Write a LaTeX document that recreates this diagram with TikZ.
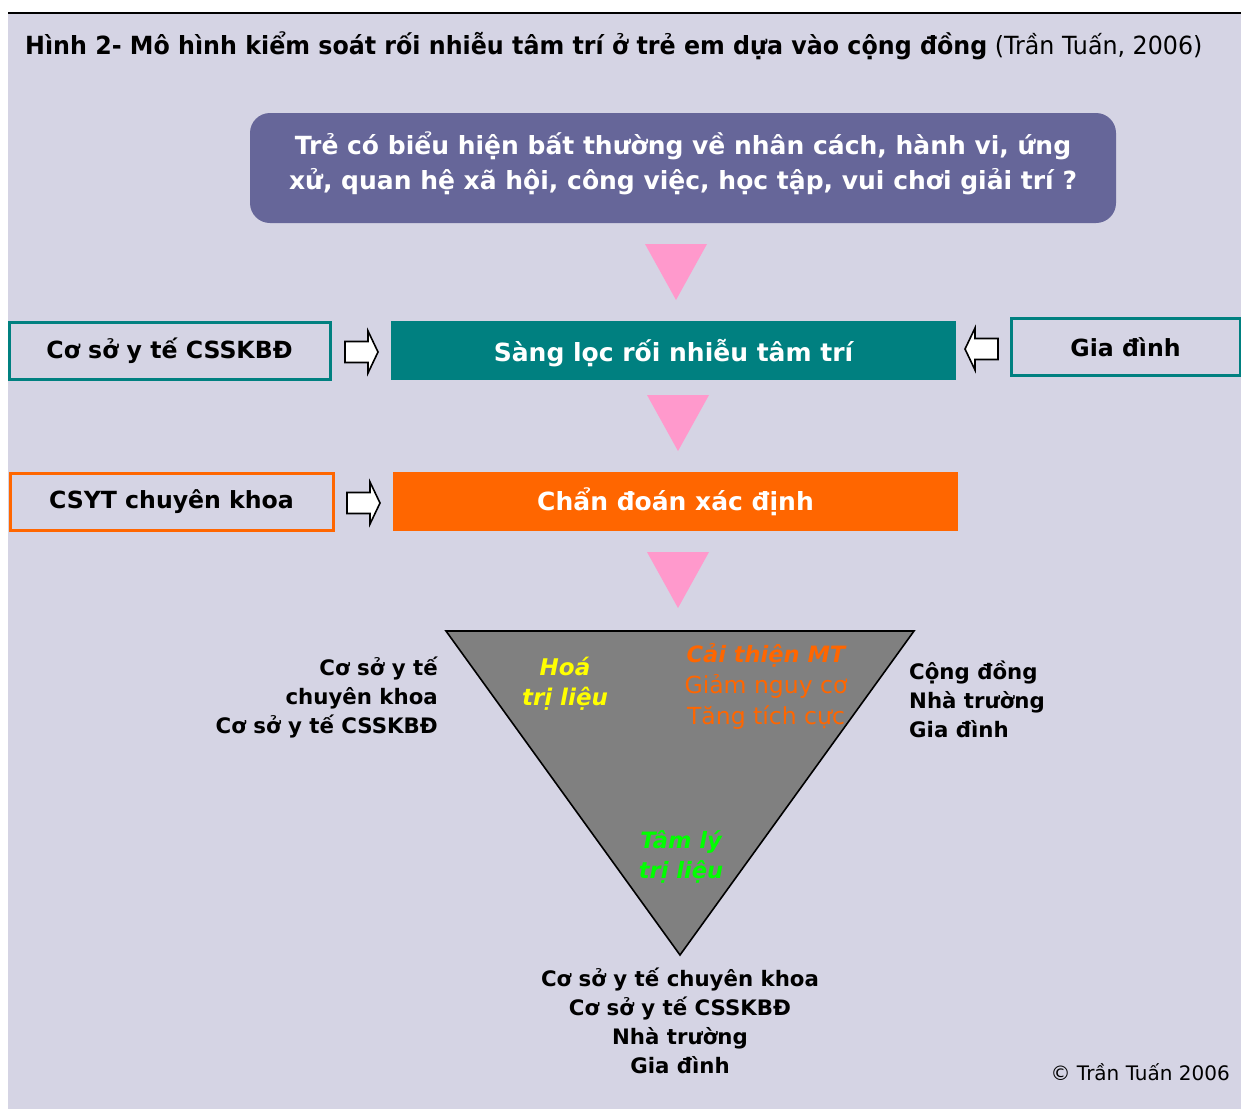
\documentclass[tikz,border=0pt]{standalone}
\usepackage{fontspec}
\setmainfont{DejaVu Sans}
\newfontfamily\titlefont[FakeStretch=0.95]{DejaVu Sans}
\usetikzlibrary{positioning,shapes.geometric,calc}
\definecolor{lavender} {HTML}{D5D4E4}
\definecolor{slate}    {HTML}{666699}
\definecolor{teal}     {HTML}{008080}
\definecolor{mandarin} {HTML}{FF6600}
\definecolor{pinkish}  {HTML}{FF99CC}
\definecolor{ash}      {HTML}{808080}
\definecolor{lemon}    {HTML}{FFFF00}
\definecolor{lime}     {HTML}{00FF00}
\tikzset{
  % --- nodes
  box/.style    = {align=center, inner sep=0pt, font=\fontsize{25}{35}\selectfont\bfseries},
  solid/.style  = {box, text=white, minimum width=565pt, minimum height=59pt},
  frame/.style  = {box, fill=lavender, line width=3pt, minimum height=57pt,
                   font=\fontsize{23.6}{30}\selectfont\bfseries},
  lbl/.style    = {inner sep=0pt, font=\fontsize{21.3}{29}\selectfont\bfseries},
  % --- pictograms
  blockarrow/.pic = {
    \draw[fill=white, line width=1.6pt, line join=miter]
      (-16.5,-10.5) -- (6.5,-10.5) -- (6.5,-21) -- (16.5,0) -- (6.5,21)
      -- (6.5,10.5) -- (-16.5,10.5) -- cycle;
  },
  pinkdown/.pic = {
    \fill[pinkish] (-31,0) -- (31,0) -- (0,56) -- cycle;
  },
}
\begin{document}
\begin{tikzpicture}[x=1pt,y=-1pt]
  \useasboundingbox (0,0) rectangle (1241,1109);
  \fill[lavender] (8,13) rectangle (1241,1109);
  \draw[line width=2pt] (8,13) -- (1241,13);

  \node[anchor=west, inner sep=0pt] (title) at (25,46)
    {\titlefont\fontsize{25}{30}\selectfont{\bfseries Hình 2- Mô hình kiểm soát rối nhiễu tâm trí ở trẻ em dựa vào cộng đồng} (Trần Tuấn, 2006)};

  \node[fill=slate, rounded corners=20pt, minimum width=866pt, minimum height=110pt]
    (sign) at (683,168) {};
  \node[box, text=white] (signtext) at (683,163)
    {Trẻ có biểu hiện bất thường về nhân cách, hành vi, ứng\\xử, quan hệ xã hội, công việc, học tập, vui chơi giải trí ?};

  \node[solid, fill=teal] (screen) at (673.5,350.5) {\raisebox{-3pt}[\height][\depth]{Sàng lọc rối nhiễu tâm trí}};
  \node[frame, draw=teal, minimum width=321pt] (csskbd) at (169.5,350.5) {Cơ sở y tế CSSKBĐ};
  \node[frame, draw=teal, minimum width=229pt] (family) at (1125.5,347) {Gia đình};

  \node[solid, fill=mandarin] (diag) at (675.5,501.5) {Chẩn đoán xác định};
  \node[frame, draw=mandarin, minimum width=323pt] (csyt) at (171.5,501.5) {CSYT chuyên khoa};

  \pic at (361.5,352) {blockarrow};
  \pic[xscale=-1] at (981.5,349) {blockarrow};
  \pic at (363.5,503) {blockarrow};

  \pic at (676,244) {pinkdown};
  \pic at (678,395) {pinkdown};
  \pic at (678,552) {pinkdown};

  \draw[fill=ash, line width=1.6pt, line join=miter] (446,631) -- (914,631) -- (680,955) -- cycle;

  \node[box, text=lemon, font=\fontsize{23}{30}\selectfont\bfseries\itshape] (chem) at (565,684) {Hoá\\trị liệu};
  \node[box, text=mandarin, font=\fontsize{23.5}{31}\selectfont] (env) at (766,686)
    {{\fontsize{22.5}{31}\selectfont\bfseries\itshape Cải thiện MT}\\Giảm nguy cơ\\Tăng tích cực};
  \node[box, text=lime, font=\fontsize{22.5}{30}\selectfont\bfseries\itshape] (psy) at (681,857) {Tâm lý\\trị liệu};

  \node[lbl, align=right, anchor=east] (leftlbl) at (438,697) {Cơ sở y tế\\chuyên khoa\\Cơ sở y tế CSSKBĐ};
  \node[lbl, align=left, anchor=west] (rightlbl) at (909,699) {Cộng đồng\\Nhà trường\\Gia đình};
  \node[lbl, align=center] (bottomlbl) at (680,1020.5) {Cơ sở y tế chuyên khoa\\Cơ sở y tế CSSKBĐ\\Nhà trường\\Gia đình};

  \node[anchor=east, inner sep=0pt, font=\fontsize{20}{24}\selectfont] (copy) at (1230,1072) {© Trần Tuấn 2006};
\end{tikzpicture}
\end{document}
